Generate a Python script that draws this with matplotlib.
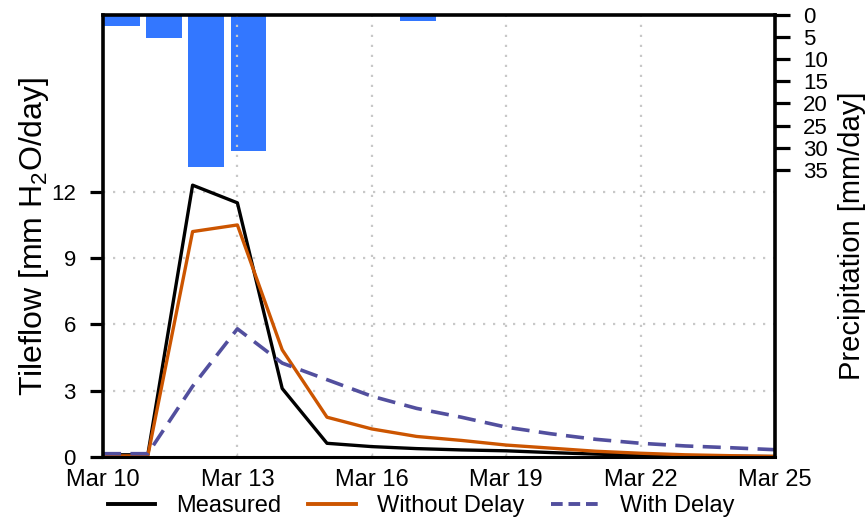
import matplotlib
matplotlib.use("Agg")
import matplotlib.pyplot as plt
from matplotlib.lines import Line2D

plt.rcParams["font.family"] = ["Liberation Sans", "DejaVu Sans"]
plt.rcParams["mathtext.default"] = "regular"

# --- data ---
days = list(range(10, 26))  # Mar 10 .. Mar 25
tick_days = [10, 13, 16, 19, 22, 25]
tick_labels = ["Mar 10", "Mar 13", "Mar 16", "Mar 19", "Mar 22", "Mar 25"]

measured = [0.1, 0.1, 12.3, 11.5, 3.1, 0.62, 0.47, 0.38, 0.32, 0.28,
            0.2, 0.13, 0.08, 0.05, 0.03, 0.02]
without_delay = [0.05, 0.05, 10.2, 10.5, 4.85, 1.8, 1.27, 0.93, 0.75, 0.54,
                 0.4, 0.26, 0.17, 0.1, 0.06, 0.03]
with_delay = [0.15, 0.15, 3.2, 5.8, 4.25, 3.5, 2.75, 2.2, 1.8, 1.35,
              1.05, 0.8, 0.62, 0.5, 0.42, 0.33]

# precipitation, one bar per day slot
precip = [2.5, 5.2, 34.5, 30.7, 0, 0, 0, 1.4, 0, 0, 0, 0, 0, 0, 0, 0]

c_meas = "black"
c_nodelay = "#cc5500"
c_delay = "#524f9e"
c_bar = "#3377ff"

fig = plt.figure(figsize=(8.68, 5.23), dpi=100)
pos = [103 / 868, 1 - 457 / 523, 672 / 868, 442 / 523]

# bar axes underneath (precipitation, inverted, right side)
axb = fig.add_axes(pos)
axb.bar(range(len(precip)), precip, width=0.85, color=c_bar, edgecolor="none")
axb.set_xlim(-0.44, 15.45)
axb.set_ylim(100, 0)
axb.set_yticks(range(0, 40, 5))
axb.yaxis.tick_right()
axb.yaxis.set_label_position("right")
axb.xaxis.set_visible(False)
for s in axb.spines.values():
    s.set_visible(False)
axb.tick_params(axis="y", direction="out", length=11, width=2.3, labelsize=16, pad=9)
axb.set_ylabel("Precipitation [mm/day]", fontsize=21)
axb.yaxis.set_label_coords(1.094, 0.5)

# line axes on top
ax = fig.add_axes(pos)
ax.patch.set_visible(False)
ax.plot(days, measured, color=c_meas, lw=2.4, label="Measured")
ax.plot(days, without_delay, color=c_nodelay, lw=2.4, label="Without Delay")
ax.plot(days, with_delay, color=c_delay, lw=2.6, ls=(0, (5, 2.6)), label="With Delay")

ax.set_xlim(10, 25)
ax.set_ylim(0, 20)
ax.set_xticks(tick_days)
ax.set_xticklabels(tick_labels)
ax.set_yticks([0, 3, 6, 9, 12])
ax.grid(True, color="#c8c8c8", ls=(0, (1, 3.5)), lw=1.6)
ax.tick_params(axis="y", direction="out", length=9.5, width=2.3, labelsize=16, pad=10)
ax.tick_params(axis="x", direction="in", length=3, width=1, color="#c8c8c8",
               labelsize=17, pad=9)
for side in ["left", "right", "top"]:
    ax.spines[side].set_linewidth(2.6)
ax.spines["bottom"].set_linewidth(2.2)
ax.set_ylabel("Tileflow [mm H$_2$O/day]", fontsize=23)
ax.yaxis.set_label_coords(-0.078, 0.5)

handles = [
    Line2D([], [], color=c_meas, lw=2.8),
    Line2D([], [], color=c_nodelay, lw=2.8),
    Line2D([], [], color=c_delay, lw=2.8, ls=(0, (3, 1.5))),
]
fig.legend(handles, ["Measured", "Without Delay", "With Delay"],
           loc="center", bbox_to_anchor=(421 / 868, 1 - 506 / 523), ncol=3,
           frameon=False, fontsize=17, handlelength=2.0, handletextpad=0.9,
           columnspacing=1.15, borderpad=0)

fig.savefig("out.png", dpi=100)
